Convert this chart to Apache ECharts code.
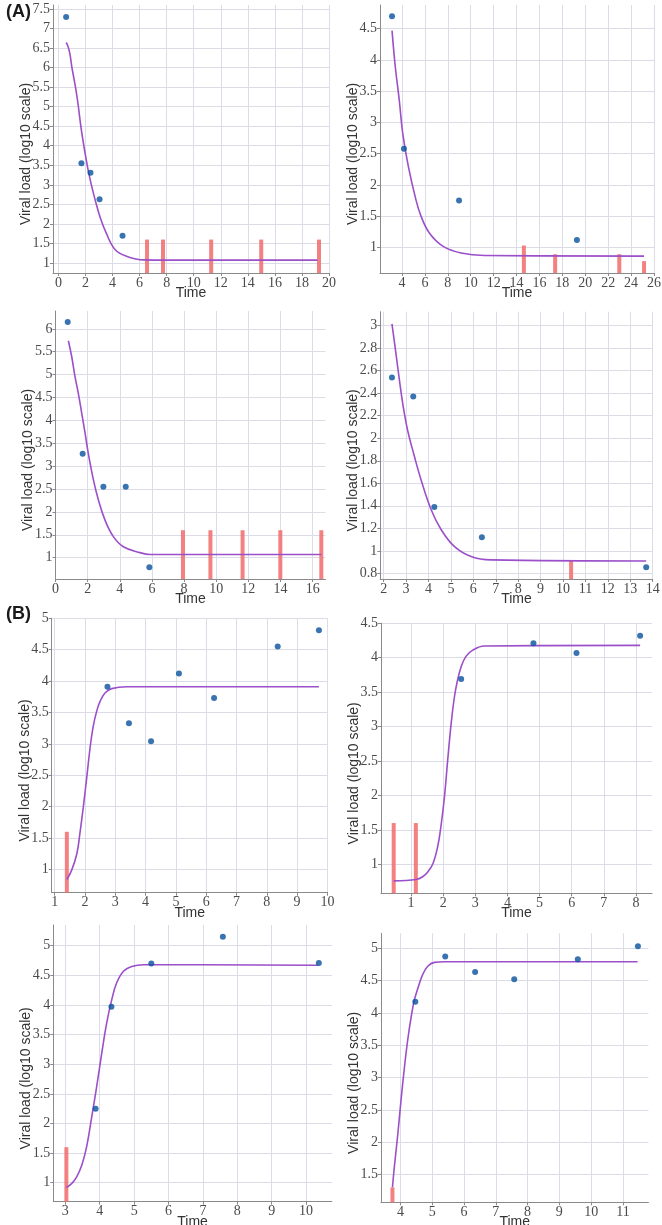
<!DOCTYPE html>
<html>
<head>
<meta charset="utf-8">
<script src="https://cdn.jsdelivr.net/npm/echarts@6/dist/echarts.min.js"></script>
<style>
html,body{margin:0;padding:0;background:#fff;}
#chart{width:662px;height:1225px;}
</style>
</head>
<body>
<div id="chart"></div>
<script>
// ---------------- DATA ----------------
// Panel A1
const p1ObsT = [0.57, 1.7, 2.37, 3.04, 4.74];
const p1ObsV = [7.29, 3.55, 3.31, 2.63, 1.70];
const p1FitT = [0.57, 0.7, 0.85, 0.99, 1.2, 1.41, 1.73, 2.15, 2.45, 2.72, 3.1, 3.53, 4.2, 5.07, 6.3, 8, 19.15];
const p1FitV = [6.64, 6.55, 6.35, 6.02, 5.62, 5.17, 4.32, 3.46, 2.98, 2.61, 2.15, 1.77, 1.34, 1.17, 1.08, 1.075, 1.075];
const p1BlqT = [6.55, 7.73, 11.29, 14.99, 19.26];
const p1BlqV = [1.6, 1.6, 1.6, 1.6, 1.6];
const p1XTicks = [0, 2, 4, 6, 8, 10, 12, 14, 16, 18, 20];
const p1YTicks = [1, 1.5, 2, 2.5, 3, 3.5, 4, 4.5, 5, 5.5, 6, 6.5, 7, 7.5];
// Panel A2
const p2ObsT = [3.13, 4.17, 8.98, 19.27];
const p2ObsV = [4.70, 2.58, 1.75, 1.12];
const p2FitT = [3.13, 3.41, 3.76, 4.06, 4.55, 5.22, 5.66, 6.39, 7.56, 9.16, 11.2, 25.13];
const p2FitV = [4.47, 3.90, 3.36, 2.83, 2.30, 1.76, 1.50, 1.23, 1.02, 0.91, 0.87, 0.86];
const p2BlqT = [14.64, 17.37, 22.97, 25.13];
const p2BlqV = [1.03, 0.89, 0.89, 0.78];
const p2XTicks = [4, 6, 8, 10, 12, 14, 16, 18, 20, 22, 24, 26];
const p2YTicks = [1, 1.5, 2, 2.5, 3, 3.5, 4, 4.5];
// Panel A3
const p3ObsT = [0.76, 1.69, 2.98, 4.37, 5.84];
const p3ObsV = [6.15, 3.27, 2.55, 2.55, 0.79];
const p3FitT = [0.80, 1.01, 1.21, 1.42, 1.63, 1.84, 2.04, 2.36, 2.67, 3.08, 3.60, 4.22, 5.26, 5.89, 16.54];
const p3FitV = [5.74, 5.39, 4.96, 4.59, 4.16, 3.72, 3.28, 2.70, 2.26, 1.82, 1.46, 1.24, 1.11, 1.07, 1.07];
const p3BlqT = [7.93, 9.64, 11.64, 13.99, 16.54];
const p3BlqV = [1.6, 1.6, 1.6, 1.6, 1.6];
const p3XTicks = [0, 2, 4, 6, 8, 10, 12, 14, 16];
const p3YTicks = [1, 1.5, 2, 2.5, 3, 3.5, 4, 4.5, 5, 5.5, 6];
// Panel A4
const p4ObsT = [2.37, 3.32, 4.26, 6.38, 13.71];
const p4ObsV = [2.54, 2.37, 1.39, 1.12, 0.855];
const p4FitT = [2.37, 2.55, 2.70, 2.85, 3.07, 3.37, 3.67, 4.11, 4.56, 5.15, 5.90, 6.79, 13.71];
const p4FitV = [3.015, 2.75, 2.52, 2.31, 2.07, 1.84, 1.63, 1.37, 1.19, 1.04, 0.95, 0.92, 0.91];
const p4BlqT = [10.36];
const p4BlqV = [0.91];
const p4XTicks = [2, 3, 4, 5, 6, 7, 8, 9, 10, 11, 12, 13, 14];
const p4YTicks = [0.8, 1, 1.2, 1.4, 1.6, 1.8, 2, 2.2, 2.4, 2.6, 2.8, 3];
// Panel B1
const p5ObsT = [2.74, 3.45, 4.18, 5.10, 6.26, 8.36, 9.72];
const p5ObsV = [3.91, 3.33, 3.04, 4.12, 3.73, 4.55, 4.81];
const p5FitT = [1.40, 1.56, 1.73, 1.83, 1.94, 2.06, 2.17, 2.27, 2.39, 2.50, 2.66, 2.88, 3.38, 9.72];
const p5FitV = [0.84, 0.99, 1.25, 1.57, 1.98, 2.48, 2.95, 3.28, 3.53, 3.68, 3.81, 3.88, 3.91, 3.91];
const p5BlqT = [1.40];
const p5BlqV = [1.6];
const p5XTicks = [1, 2, 3, 4, 5, 6, 7, 8, 9, 10];
const p5YTicks = [1, 1.5, 2, 2.5, 3, 3.5, 4, 4.5, 5];
// Panel B2
const p6ObsT = [2.56, 4.81, 6.15, 8.13];
const p6ObsV = [3.69, 4.21, 4.07, 4.32];
const p6FitT = [0.46, 1.16, 1.36, 1.52, 1.68, 1.83, 1.93, 2.04, 2.14, 2.25, 2.35, 2.45, 2.56, 2.71, 2.92, 3.28, 8.13];
const p6FitV = [0.76, 0.78, 0.82, 0.89, 1.01, 1.26, 1.55, 1.98, 2.51, 3.05, 3.43, 3.68, 3.87, 4.02, 4.11, 4.17, 4.18];
const p6BlqT = [0.46, 1.15];
const p6BlqV = [1.6, 1.6];
const p6XTicks = [1, 2, 3, 4, 5, 6, 7, 8];
const p6YTicks = [1, 1.5, 2, 2.5, 3, 3.5, 4, 4.5];
// Panel B3
const p7ObsT = [3.88, 4.34, 5.50, 7.58, 10.37];
const p7ObsV = [2.25, 3.97, 4.70, 5.15, 4.71];
const p7FitT = [3.03, 3.19, 3.33, 3.48, 3.62, 3.77, 3.91, 4.06, 4.20, 4.35, 4.49, 4.69, 4.93, 5.27, 10.35];
const p7FitV = [0.92, 0.99, 1.10, 1.30, 1.61, 2.12, 2.62, 3.19, 3.69, 4.09, 4.37, 4.57, 4.65, 4.68, 4.67];
const p7BlqT = [3.03];
const p7BlqV = [1.6];
const p7XTicks = [3, 4, 5, 6, 7, 8, 9, 10];
const p7YTicks = [1, 1.5, 2, 2.5, 3, 3.5, 4, 4.5, 5];
// Panel B4
const p8ObsT = [4.47, 5.41, 6.35, 7.58, 9.58, 11.47];
const p8ObsV = [4.17, 4.87, 4.63, 4.52, 4.83, 5.03];
const p8FitT = [3.75, 3.81, 3.92, 4.02, 4.13, 4.23, 4.34, 4.44, 4.57, 4.70, 4.86, 5.07, 5.38, 11.46];
const p8FitV = [1.30, 1.62, 2.13, 2.65, 3.17, 3.58, 3.94, 4.20, 4.41, 4.59, 4.72, 4.78, 4.79, 4.79];
const p8BlqT = [3.75];
const p8BlqV = [1.3];
const p8XTicks = [4, 5, 6, 7, 8, 9, 10, 11];
const p8YTicks = [1.5, 2, 2.5, 3, 3.5, 4, 4.5, 5];

const xTitle = 'Time';
const yTitle = 'Viral load (log10 scale)';

// ---------------- LAYOUT ----------------
const panelData = [
  [p1ObsT, p1ObsV, p1FitT, p1FitV, p1BlqT, p1BlqV, p1XTicks, p1YTicks],
  [p2ObsT, p2ObsV, p2FitT, p2FitV, p2BlqT, p2BlqV, p2XTicks, p2YTicks],
  [p3ObsT, p3ObsV, p3FitT, p3FitV, p3BlqT, p3BlqV, p3XTicks, p3YTicks],
  [p4ObsT, p4ObsV, p4FitT, p4FitV, p4BlqT, p4BlqV, p4XTicks, p4YTicks],
  [p5ObsT, p5ObsV, p5FitT, p5FitV, p5BlqT, p5BlqV, p5XTicks, p5YTicks],
  [p6ObsT, p6ObsV, p6FitT, p6FitV, p6BlqT, p6BlqV, p6XTicks, p6YTicks],
  [p7ObsT, p7ObsV, p7FitT, p7FitV, p7BlqT, p7BlqV, p7XTicks, p7YTicks],
  [p8ObsT, p8ObsV, p8FitT, p8FitV, p8BlqT, p8BlqV, p8XTicks, p8YTicks]
];
const layout = [
  {grid: {left: 53, top: 5, width: 276, height: 268}, x: [-0.4, 20], y: [0.745, 7.6]},
  {grid: {left: 380, top: 5, width: 274, height: 268}, x: [2.08, 26], y: [0.59, 4.88]},
  {grid: {left: 55.5, top: 311, width: 270, height: 268}, x: [0, 16.8], y: [0.534, 6.39]},
  {grid: {left: 380.3, top: 311.7, width: 272.4, height: 267.3}, x: [1.85, 14], y: [0.75, 3.124]},
  {grid: {left: 51.7, top: 618.3, width: 276, height: 274.4}, x: [0.9, 10.01], y: [0.63, 5]},
  {grid: {left: 381, top: 623.3, width: 271, height: 270}, x: [0.065, 8.5], y: [0.58, 4.5]},
  {grid: {left: 53.3, top: 925, width: 278.6, height: 276.7}, x: [2.65, 10.75], y: [0.68, 5.35]},
  {grid: {left: 381, top: 933.3, width: 267.4, height: 269}, x: [3.39, 11.8], y: [1.07, 5.23]}
];

const zip = (a, b) => a.map((v, i) => [v, b[i]]);
const axisColor = '#8a8a8a';
const gridColor = '#dcdce8';
const tickFont = {fontFamily: 'Liberation Serif', fontSize: 14, color: '#4a4a4a'};
const titleFont = {fontFamily: 'Liberation Sans', fontSize: 14, color: '#333'};

const grids = [], xAxes = [], yAxes = [], series = [];
layout.forEach((L, i) => {
  const d = panelData[i];
  grids.push(Object.assign({containLabel: false, outerBoundsMode: 'none'}, L.grid));
  xAxes.push({
    type: 'value', gridIndex: i, min: L.x[0], max: L.x[1],
    name: xTitle, nameLocation: 'middle', nameGap: 13, nameMoveOverlap: false,
    nameTextStyle: titleFont,
    axisLine: {show: true, onZero: false, lineStyle: {color: axisColor, width: 1}},
    axisTick: {show: true, length: 3, customValues: d[6], lineStyle: {color: axisColor}},
    axisLabel: Object.assign({customValues: d[6], margin: 3, hideOverlap: false}, tickFont),
    splitLine: {show: true, lineStyle: {color: gridColor, width: 1}}
  });
  yAxes.push({
    type: 'value', gridIndex: i, min: L.y[0], max: L.y[1],
    name: yTitle, nameLocation: 'middle', nameGap: 20, nameMoveOverlap: false,
    nameTextStyle: Object.assign({padding: [0, 30, 0, 0]}, titleFont),
    axisLine: {show: true, onZero: false, lineStyle: {color: axisColor, width: 1}},
    axisTick: {show: true, length: 3, customValues: d[7], lineStyle: {color: axisColor}},
    axisLabel: Object.assign({customValues: d[7], margin: 3, hideOverlap: false}, tickFont),
    splitLine: {show: true, lineStyle: {color: gridColor, width: 1}}
  });
  series.push({
    type: 'custom', xAxisIndex: i, yAxisIndex: i, z: 2,
    data: zip(d[4], d[5]),
    renderItem: function (params, api) {
      const top = api.coord([api.value(0), api.value(1)]);
      const cs = params.coordSys;
      const bottom = cs.y + cs.height;
      return {
        type: 'rect',
        shape: {x: top[0] - 2, y: top[1], width: 4, height: bottom - top[1]},
        style: {fill: '#f26b6b', opacity: 0.85}
      };
    },
    silent: true
  });
  series.push({
    type: 'line', xAxisIndex: i, yAxisIndex: i, z: 3,
    data: zip(d[2], d[3]), showSymbol: false, smooth: 0.4,
    lineStyle: {color: '#9b4fc9', width: 1.6}, silent: true
  });
  series.push({
    type: 'scatter', xAxisIndex: i, yAxisIndex: i, z: 4,
    data: zip(d[0], d[1]), symbolSize: 6,
    itemStyle: {color: '#07519e'}, silent: true
  });
});

const chart = echarts.init(document.getElementById('chart'), null, {renderer: 'canvas'});
chart.setOption({
  animation: false,
  backgroundColor: '#ffffff',
  title: [
    {text: '(A)', left: 1, top: -2, textStyle: {fontFamily: 'Liberation Sans', fontSize: 18, fontWeight: 'bold', color: '#1a1a1a'}},
    {text: '(B)', left: 1, top: 600, textStyle: {fontFamily: 'Liberation Sans', fontSize: 18, fontWeight: 'bold', color: '#1a1a1a'}}
  ],
  grid: grids,
  xAxis: xAxes,
  yAxis: yAxes,
  series: series
});
</script>
</body>
</html>
